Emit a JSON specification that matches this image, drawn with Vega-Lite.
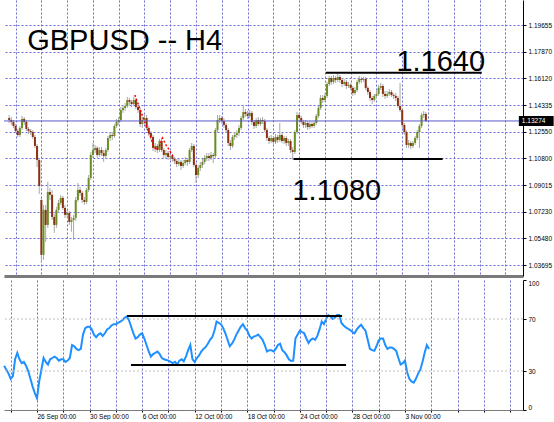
{
"$schema":"https://vega.github.io/schema/vega-lite/v6.json",
"padding":0,
"background":"white",
"config":{"view":{"stroke":null},"font":"Liberation Sans","concat":{"spacing":3},
"axis":{"labelOverlap":false,"labelFontSize":6.5,"labelColor":"#000000","tickColor":"#000000","gridColor":"#6a6ad0","gridDash":[2,2],"gridWidth":1,"title":null,"labelFlush":false,"tickCount":60}},
"datasets":{
"bars":[
{"i":-15,"o":1.1347,"h":1.1367,"l":1.1314,"c":1.1334,"r":34},
{"i":-14,"o":1.1334,"h":1.1354,"l":1.1301,"c":1.1321,"r":31},
{"i":-13,"o":1.1321,"h":1.1334,"l":1.1281,"c":1.1294,"r":28},
{"i":-12,"o":1.1294,"h":1.1307,"l":1.1247,"c":1.1261,"r":24},
{"i":-11,"o":1.1261,"h":1.1274,"l":1.1221,"c":1.1234,"r":26},
{"i":-10,"o":1.1234,"h":1.1294,"l":1.1221,"c":1.1281,"r":39},
{"i":-9,"o":1.1281,"h":1.1361,"l":1.1267,"c":1.1341,"r":44},
{"i":-8,"o":1.1341,"h":1.1354,"l":1.1301,"c":1.1321,"r":39},
{"i":-7,"o":1.1321,"h":1.1334,"l":1.1261,"c":1.1274,"r":36},
{"i":-6,"o":1.1274,"h":1.1287,"l":1.1241,"c":1.1261,"r":37},
{"i":-5,"o":1.1261,"h":1.1274,"l":1.1234,"c":1.1254,"r":34},
{"i":-4,"o":1.1254,"h":1.1267,"l":1.1208,"c":1.1221,"r":30},
{"i":-3,"o":1.1221,"h":1.1234,"l":1.1148,"c":1.1161,"r":24},
{"i":-2,"o":1.1161,"h":1.1174,"l":1.1021,"c":1.1068,"r":18},
{"i":-1,"o":1.1068,"h":1.1081,"l":1.0842,"c":1.0895,"r":13},
{"i":0,"o":1.0802,"h":1.0816,"l":1.0384,"c":1.0437,"r":9},
{"i":1,"o":1.0437,"h":1.0769,"l":1.0403,"c":1.0736,"r":22},
{"i":2,"o":1.0736,"h":1.0769,"l":1.0523,"c":1.0636,"r":31},
{"i":3,"o":1.0636,"h":1.0922,"l":1.0616,"c":1.0855,"r":40},
{"i":4,"o":1.0855,"h":1.0882,"l":1.0802,"c":1.0836,"r":37},
{"i":5,"o":1.0836,"h":1.0869,"l":1.0669,"c":1.0689,"r":35},
{"i":6,"o":1.0689,"h":1.0709,"l":1.0583,"c":1.0636,"r":39},
{"i":7,"o":1.0636,"h":1.0756,"l":1.0616,"c":1.0736,"r":40},
{"i":8,"o":1.0736,"h":1.0802,"l":1.0716,"c":1.0782,"r":41},
{"i":9,"o":1.0782,"h":1.0836,"l":1.0769,"c":1.0816,"r":40},
{"i":10,"o":1.0816,"h":1.0829,"l":1.0736,"c":1.0749,"r":38},
{"i":11,"o":1.0749,"h":1.0769,"l":1.0683,"c":1.0703,"r":39},
{"i":12,"o":1.0703,"h":1.0736,"l":1.0683,"c":1.0716,"r":39},
{"i":13,"o":1.0716,"h":1.0729,"l":1.0636,"c":1.0656,"r":37},
{"i":14,"o":1.0656,"h":1.0689,"l":1.059,"c":1.0669,"r":38},
{"i":15,"o":1.0669,"h":1.0703,"l":1.0537,"c":1.0683,"r":40},
{"i":16,"o":1.0683,"h":1.0822,"l":1.0663,"c":1.0802,"r":50},
{"i":17,"o":1.0802,"h":1.0915,"l":1.0789,"c":1.0869,"r":49},
{"i":18,"o":1.0869,"h":1.0889,"l":1.0829,"c":1.0849,"r":47},
{"i":19,"o":1.0849,"h":1.0862,"l":1.0782,"c":1.0802,"r":46},
{"i":20,"o":1.0802,"h":1.0822,"l":1.0769,"c":1.0789,"r":47},
{"i":21,"o":1.0789,"h":1.0882,"l":1.0776,"c":1.0869,"r":58},
{"i":22,"o":1.0869,"h":1.0968,"l":1.0855,"c":1.0948,"r":63},
{"i":23,"o":1.0948,"h":1.1121,"l":1.0935,"c":1.1101,"r":64},
{"i":24,"o":1.1101,"h":1.1181,"l":1.1081,"c":1.1134,"r":64},
{"i":25,"o":1.1134,"h":1.1168,"l":1.1114,"c":1.1148,"r":62},
{"i":26,"o":1.1148,"h":1.1161,"l":1.1081,"c":1.1101,"r":58},
{"i":27,"o":1.1101,"h":1.1154,"l":1.1088,"c":1.1134,"r":56},
{"i":28,"o":1.1134,"h":1.1154,"l":1.1094,"c":1.1114,"r":58},
{"i":29,"o":1.1114,"h":1.1134,"l":1.1055,"c":1.1094,"r":59},
{"i":30,"o":1.1094,"h":1.1148,"l":1.1075,"c":1.1134,"r":57},
{"i":31,"o":1.1134,"h":1.1227,"l":1.1121,"c":1.1214,"r":59},
{"i":32,"o":1.1214,"h":1.1254,"l":1.1194,"c":1.1234,"r":62},
{"i":33,"o":1.1234,"h":1.1254,"l":1.1201,"c":1.1227,"r":63},
{"i":34,"o":1.1227,"h":1.1307,"l":1.1214,"c":1.1294,"r":65},
{"i":35,"o":1.1294,"h":1.1341,"l":1.1281,"c":1.1321,"r":66},
{"i":36,"o":1.1321,"h":1.1354,"l":1.1301,"c":1.1334,"r":66},
{"i":37,"o":1.1334,"h":1.142,"l":1.1321,"c":1.14,"r":67},
{"i":38,"o":1.14,"h":1.1434,"l":1.1381,"c":1.1414,"r":68},
{"i":39,"o":1.1414,"h":1.1447,"l":1.1394,"c":1.1427,"r":69},
{"i":40,"o":1.1427,"h":1.1487,"l":1.1414,"c":1.1467,"r":71},
{"i":41,"o":1.1467,"h":1.148,"l":1.1434,"c":1.1454,"r":72},
{"i":42,"o":1.1454,"h":1.1467,"l":1.142,"c":1.144,"r":69},
{"i":43,"o":1.144,"h":1.1487,"l":1.1427,"c":1.1467,"r":64},
{"i":44,"o":1.1467,"h":1.148,"l":1.1407,"c":1.142,"r":59},
{"i":45,"o":1.142,"h":1.1434,"l":1.1381,"c":1.14,"r":55},
{"i":46,"o":1.14,"h":1.1414,"l":1.1287,"c":1.1307,"r":56},
{"i":47,"o":1.1307,"h":1.1354,"l":1.1281,"c":1.1334,"r":58},
{"i":48,"o":1.1334,"h":1.1367,"l":1.1307,"c":1.1347,"r":59},
{"i":49,"o":1.1347,"h":1.1367,"l":1.1267,"c":1.1281,"r":55},
{"i":50,"o":1.1281,"h":1.1294,"l":1.1227,"c":1.1247,"r":50},
{"i":51,"o":1.1247,"h":1.1261,"l":1.1201,"c":1.1221,"r":45},
{"i":52,"o":1.1221,"h":1.1234,"l":1.1128,"c":1.1148,"r":41},
{"i":53,"o":1.1148,"h":1.1181,"l":1.1121,"c":1.1161,"r":43},
{"i":54,"o":1.1161,"h":1.1174,"l":1.1114,"c":1.1134,"r":44},
{"i":55,"o":1.1134,"h":1.1208,"l":1.1121,"c":1.1194,"r":45},
{"i":56,"o":1.1194,"h":1.1214,"l":1.1121,"c":1.1134,"r":43},
{"i":57,"o":1.1134,"h":1.1148,"l":1.1081,"c":1.1101,"r":40},
{"i":58,"o":1.1101,"h":1.1134,"l":1.1081,"c":1.1114,"r":39},
{"i":59,"o":1.1114,"h":1.1128,"l":1.1068,"c":1.1088,"r":38.5},
{"i":60,"o":1.1088,"h":1.1108,"l":1.1068,"c":1.1094,"r":38},
{"i":61,"o":1.1094,"h":1.1108,"l":1.1055,"c":1.1075,"r":37},
{"i":62,"o":1.1075,"h":1.1088,"l":1.1041,"c":1.1061,"r":36},
{"i":63,"o":1.1061,"h":1.1075,"l":1.1021,"c":1.1041,"r":37},
{"i":64,"o":1.1041,"h":1.1075,"l":1.1028,"c":1.1055,"r":35},
{"i":65,"o":1.1055,"h":1.1068,"l":1.1001,"c":1.1028,"r":38},
{"i":66,"o":1.1028,"h":1.1068,"l":1.1015,"c":1.1048,"r":39},
{"i":67,"o":1.1048,"h":1.1088,"l":1.1035,"c":1.1068,"r":37.5},
{"i":68,"o":1.1068,"h":1.1081,"l":1.1028,"c":1.1055,"r":41},
{"i":69,"o":1.1055,"h":1.1148,"l":1.1041,"c":1.1134,"r":46},
{"i":70,"o":1.1134,"h":1.1181,"l":1.1121,"c":1.1161,"r":50},
{"i":71,"o":1.1161,"h":1.1174,"l":1.1021,"c":1.1035,"r":39},
{"i":72,"o":1.1035,"h":1.1048,"l":1.0915,"c":1.0968,"r":37},
{"i":73,"o":1.0968,"h":1.1035,"l":1.0948,"c":1.1015,"r":40},
{"i":74,"o":1.1015,"h":1.1055,"l":1.0995,"c":1.1035,"r":42},
{"i":75,"o":1.1035,"h":1.1075,"l":1.1015,"c":1.1055,"r":45},
{"i":76,"o":1.1055,"h":1.1101,"l":1.1041,"c":1.1081,"r":47},
{"i":77,"o":1.1081,"h":1.1114,"l":1.1061,"c":1.1094,"r":48.5},
{"i":78,"o":1.1094,"h":1.1114,"l":1.1061,"c":1.1081,"r":51},
{"i":79,"o":1.1081,"h":1.1121,"l":1.1068,"c":1.1101,"r":54},
{"i":80,"o":1.1101,"h":1.1114,"l":1.1048,"c":1.1094,"r":56},
{"i":81,"o":1.1094,"h":1.1281,"l":1.1081,"c":1.1267,"r":61},
{"i":82,"o":1.1267,"h":1.1367,"l":1.1254,"c":1.1334,"r":68},
{"i":83,"o":1.1334,"h":1.1367,"l":1.1314,"c":1.1347,"r":67},
{"i":84,"o":1.1347,"h":1.1361,"l":1.1307,"c":1.1327,"r":66},
{"i":85,"o":1.1327,"h":1.1347,"l":1.1281,"c":1.1301,"r":63},
{"i":86,"o":1.1301,"h":1.1314,"l":1.1247,"c":1.1267,"r":59},
{"i":87,"o":1.1267,"h":1.1281,"l":1.1161,"c":1.1181,"r":54},
{"i":88,"o":1.1181,"h":1.1201,"l":1.1134,"c":1.1161,"r":49},
{"i":89,"o":1.1161,"h":1.1234,"l":1.1148,"c":1.1221,"r":51},
{"i":90,"o":1.1221,"h":1.1254,"l":1.1201,"c":1.1234,"r":54},
{"i":91,"o":1.1234,"h":1.1267,"l":1.1214,"c":1.1247,"r":58},
{"i":92,"o":1.1247,"h":1.1301,"l":1.1227,"c":1.1281,"r":61},
{"i":93,"o":1.1281,"h":1.1361,"l":1.1267,"c":1.1347,"r":64},
{"i":94,"o":1.1347,"h":1.1434,"l":1.1334,"c":1.1387,"r":66},
{"i":95,"o":1.1387,"h":1.1407,"l":1.1354,"c":1.1374,"r":63},
{"i":96,"o":1.1374,"h":1.1394,"l":1.1341,"c":1.1361,"r":61},
{"i":97,"o":1.1361,"h":1.14,"l":1.1347,"c":1.1381,"r":57},
{"i":98,"o":1.1381,"h":1.1394,"l":1.1301,"c":1.1321,"r":55},
{"i":99,"o":1.1321,"h":1.1334,"l":1.1274,"c":1.1294,"r":56.5},
{"i":100,"o":1.1294,"h":1.1347,"l":1.1281,"c":1.1334,"r":57},
{"i":101,"o":1.1334,"h":1.1354,"l":1.1294,"c":1.1307,"r":58},
{"i":102,"o":1.1307,"h":1.1347,"l":1.1294,"c":1.1334,"r":56},
{"i":103,"o":1.1334,"h":1.1354,"l":1.1307,"c":1.1327,"r":54},
{"i":104,"o":1.1327,"h":1.1341,"l":1.1254,"c":1.1267,"r":50},
{"i":105,"o":1.1267,"h":1.1281,"l":1.1194,"c":1.1214,"r":45},
{"i":106,"o":1.1214,"h":1.1227,"l":1.1174,"c":1.1194,"r":46},
{"i":107,"o":1.1194,"h":1.1234,"l":1.1181,"c":1.1214,"r":46},
{"i":108,"o":1.1214,"h":1.1227,"l":1.1174,"c":1.1188,"r":45},
{"i":109,"o":1.1188,"h":1.1241,"l":1.1174,"c":1.1221,"r":47},
{"i":110,"o":1.1221,"h":1.1234,"l":1.1181,"c":1.1201,"r":50},
{"i":111,"o":1.1201,"h":1.1314,"l":1.1188,"c":1.1234,"r":51},
{"i":112,"o":1.1234,"h":1.1247,"l":1.1181,"c":1.1194,"r":46},
{"i":113,"o":1.1194,"h":1.1227,"l":1.1174,"c":1.1214,"r":44.5},
{"i":114,"o":1.1214,"h":1.1227,"l":1.1161,"c":1.1181,"r":42},
{"i":115,"o":1.1181,"h":1.1208,"l":1.1161,"c":1.1194,"r":39},
{"i":116,"o":1.1194,"h":1.1208,"l":1.1114,"c":1.1134,"r":37.7},
{"i":117,"o":1.1134,"h":1.1154,"l":1.1068,"c":1.1121,"r":38},
{"i":118,"o":1.1121,"h":1.1267,"l":1.1108,"c":1.1254,"r":55},
{"i":119,"o":1.1254,"h":1.1387,"l":1.1241,"c":1.1367,"r":58},
{"i":120,"o":1.1367,"h":1.1381,"l":1.1327,"c":1.1347,"r":61},
{"i":121,"o":1.1347,"h":1.1361,"l":1.1307,"c":1.1321,"r":60},
{"i":122,"o":1.1321,"h":1.1334,"l":1.1281,"c":1.1301,"r":59},
{"i":123,"o":1.1301,"h":1.1334,"l":1.1281,"c":1.1314,"r":55},
{"i":124,"o":1.1314,"h":1.1327,"l":1.1267,"c":1.1287,"r":51.5},
{"i":125,"o":1.1287,"h":1.1327,"l":1.1274,"c":1.1307,"r":54},
{"i":126,"o":1.1307,"h":1.1321,"l":1.1281,"c":1.1294,"r":55},
{"i":127,"o":1.1294,"h":1.1327,"l":1.1281,"c":1.1314,"r":54},
{"i":128,"o":1.1314,"h":1.1374,"l":1.1301,"c":1.1361,"r":57},
{"i":129,"o":1.1361,"h":1.1427,"l":1.1347,"c":1.1414,"r":62},
{"i":130,"o":1.1414,"h":1.15,"l":1.14,"c":1.148,"r":68},
{"i":131,"o":1.148,"h":1.15,"l":1.1447,"c":1.1467,"r":66},
{"i":132,"o":1.1467,"h":1.1513,"l":1.1454,"c":1.1494,"r":70},
{"i":133,"o":1.1494,"h":1.1587,"l":1.148,"c":1.1573,"r":73},
{"i":134,"o":1.1573,"h":1.1627,"l":1.156,"c":1.1613,"r":72},
{"i":135,"o":1.1613,"h":1.1627,"l":1.1567,"c":1.1587,"r":70},
{"i":136,"o":1.1587,"h":1.1633,"l":1.1573,"c":1.1613,"r":71},
{"i":137,"o":1.1613,"h":1.1627,"l":1.158,"c":1.16,"r":73},
{"i":138,"o":1.16,"h":1.164,"l":1.1587,"c":1.162,"r":73},
{"i":139,"o":1.162,"h":1.1633,"l":1.158,"c":1.16,"r":67},
{"i":140,"o":1.16,"h":1.1613,"l":1.1553,"c":1.1573,"r":65},
{"i":141,"o":1.1573,"h":1.1607,"l":1.156,"c":1.1587,"r":63.5},
{"i":142,"o":1.1587,"h":1.16,"l":1.154,"c":1.156,"r":62.5},
{"i":143,"o":1.156,"h":1.1587,"l":1.1547,"c":1.1567,"r":61.5},
{"i":144,"o":1.1567,"h":1.158,"l":1.1533,"c":1.1547,"r":60},
{"i":145,"o":1.1547,"h":1.156,"l":1.1494,"c":1.1513,"r":59},
{"i":146,"o":1.1513,"h":1.1553,"l":1.15,"c":1.1533,"r":62},
{"i":147,"o":1.1533,"h":1.16,"l":1.152,"c":1.1587,"r":64},
{"i":148,"o":1.1587,"h":1.1627,"l":1.1573,"c":1.1607,"r":65.5},
{"i":149,"o":1.1607,"h":1.162,"l":1.158,"c":1.16,"r":63},
{"i":150,"o":1.16,"h":1.162,"l":1.1587,"c":1.1607,"r":61},
{"i":151,"o":1.1607,"h":1.162,"l":1.1533,"c":1.1547,"r":54},
{"i":152,"o":1.1547,"h":1.156,"l":1.15,"c":1.152,"r":47},
{"i":153,"o":1.152,"h":1.1533,"l":1.146,"c":1.148,"r":46},
{"i":154,"o":1.148,"h":1.1494,"l":1.144,"c":1.1467,"r":45.5},
{"i":155,"o":1.1467,"h":1.1507,"l":1.1454,"c":1.1494,"r":49},
{"i":156,"o":1.1494,"h":1.1527,"l":1.148,"c":1.1507,"r":53.5},
{"i":157,"o":1.1507,"h":1.1567,"l":1.1494,"c":1.1547,"r":55},
{"i":158,"o":1.1547,"h":1.158,"l":1.1533,"c":1.156,"r":55},
{"i":159,"o":1.156,"h":1.1573,"l":1.1487,"c":1.1507,"r":50},
{"i":160,"o":1.1507,"h":1.1527,"l":1.1474,"c":1.1494,"r":47},
{"i":161,"o":1.1494,"h":1.1527,"l":1.148,"c":1.1507,"r":48},
{"i":162,"o":1.1507,"h":1.154,"l":1.1494,"c":1.152,"r":48},
{"i":163,"o":1.152,"h":1.1533,"l":1.1487,"c":1.15,"r":47},
{"i":164,"o":1.15,"h":1.1513,"l":1.1474,"c":1.1494,"r":45.5},
{"i":165,"o":1.1494,"h":1.1513,"l":1.146,"c":1.148,"r":40},
{"i":166,"o":1.148,"h":1.1494,"l":1.1414,"c":1.1427,"r":35},
{"i":167,"o":1.1427,"h":1.158,"l":1.1387,"c":1.14,"r":36},
{"i":168,"o":1.14,"h":1.1414,"l":1.1281,"c":1.1301,"r":38},
{"i":169,"o":1.1301,"h":1.1314,"l":1.1234,"c":1.1254,"r":29},
{"i":170,"o":1.1254,"h":1.1267,"l":1.1148,"c":1.1168,"r":24},
{"i":171,"o":1.1168,"h":1.1201,"l":1.1148,"c":1.1181,"r":22},
{"i":172,"o":1.1181,"h":1.1194,"l":1.1141,"c":1.1161,"r":21},
{"i":173,"o":1.1161,"h":1.1194,"l":1.1148,"c":1.1181,"r":24},
{"i":174,"o":1.1181,"h":1.1227,"l":1.1168,"c":1.1214,"r":28},
{"i":175,"o":1.1214,"h":1.1267,"l":1.1201,"c":1.1254,"r":31},
{"i":176,"o":1.1254,"h":1.1307,"l":1.1148,"c":1.1294,"r":37},
{"i":177,"o":1.1294,"h":1.1381,"l":1.1281,"c":1.1367,"r":44},
{"i":178,"o":1.1367,"h":1.1394,"l":1.1347,"c":1.1374,"r":50},
{"i":179,"o":1.1374,"h":1.1387,"l":1.1321,"c":1.1327,"r":47}
],
"lines":[{"a":132.4,"b":205,"p":1.1648},{"a":117.4,"b":186.8,"p":1.1074}],
"rsiLines":[{"a":41.1,"b":139.3,"r":72.3},{"a":42.9,"b":141.1,"r":34.6}],
"levels":[{"r":30},{"r":70}],
"redTrail":[{"i":43.5,"p":1.15},{"i":46.6,"p":1.138},{"i":49.8,"p":1.1261},{"i":52.1,"p":1.1168},{"i":53.4,"p":1.1134},{"i":54.8,"p":1.1154},{"i":56.4,"p":1.1214},{"i":58,"p":1.1168},{"i":59.6,"p":1.1134},{"i":61.2,"p":1.1094}],
"notes":[{"i":-6.6,"p":1.1799,"t":"GBPUSD -- H4"},{"i":165.3,"p":1.166,"t":"1.1640"},{"i":116.9,"p":1.0802,"t":"1.1080"}],
"last":[{"p":1.13274,"top":1.1361,"bot":1.1294,"a":222.3,"b":238.5,"t":"1.13274"}]
},
"vconcat":[
{"width":519,"height":276,
"layer":[
{"data":{"name":"bars"},"mark":{"type":"rule","color":"#a8a8a8","strokeWidth":1},
"encoding":{
"x":{"field":"i","type":"quantitative","scale":{"domain":[-15.07,221.9],"nice":false,"zero":false},
"axis":{"orient":"bottom","values":[-12,0,12,24,36,48,60,72,84,96,108,120,132,144,156,168,180,192,204,216],"tickCount":60,"labels":false,"ticks":false,"title":null,"grid":true,"domainColor":"#7a7a7a","domainWidth":3,"labelOverlap":false}},
"y":{"field":"l","type":"quantitative","scale":{"domain":[1.02964,1.21318],"nice":false,"zero":false},
"axis":{"orient":"right","values":[1.03695,1.0548,1.0723,1.09015,1.108,1.1255,1.14335,1.1612,1.1787,1.19655],"tickCount":60,"format":".5f","title":null,"grid":true,"domainColor":"#000000","tickSize":3,"labelPadding":2,"labelOverlap":false}},
"y2":{"field":"h"}}},
{"data":{"name":"bars"},"mark":{"type":"bar","size":2},
"encoding":{
"x":{"field":"i","type":"quantitative"},
"y":{"field":"o","type":"quantitative"},
"y2":{"field":"c"},
"color":{"condition":{"test":"datum.c >= datum.o","value":"#6b8e23"},"value":"#8b3010"}}},
{"data":{"name":"redTrail"},"mark":{"type":"line","stroke":"#ff0000","strokeWidth":1.5,"strokeDash":[2,2]},
"encoding":{
"x":{"field":"i","type":"quantitative"},
"y":{"field":"p","type":"quantitative"}}},
{"data":{"name":"last"},"mark":{"type":"rule","color":"#5a5acc","strokeWidth":1},
"encoding":{"y":{"field":"p","type":"quantitative"}}},
{"data":{"name":"lines"},"mark":{"type":"rule","color":"#000000","strokeWidth":2},
"encoding":{
"x":{"field":"a","type":"quantitative"},
"x2":{"field":"b"},
"y":{"field":"p","type":"quantitative"}}},
{"data":{"name":"notes"},"mark":{"type":"text","align":"left","baseline":"alphabetic","fontSize":29,"font":"Liberation Sans","color":"#000000"},
"encoding":{
"x":{"field":"i","type":"quantitative"},
"y":{"field":"p","type":"quantitative"},
"text":{"field":"t"}}},
{"data":{"name":"last"},"mark":{"type":"rect","color":"#000000","clip":false},
"encoding":{
"x":{"field":"a","type":"quantitative"},
"x2":{"field":"b"},
"y":{"field":"top","type":"quantitative"},
"y2":{"field":"bot"}}},
{"data":{"name":"last"},"mark":{"type":"text","align":"left","baseline":"middle","fontSize":6.5,"color":"#ffffff","dx":3,"clip":false},
"encoding":{
"x":{"field":"a","type":"quantitative"},
"y":{"field":"p","type":"quantitative"},
"text":{"field":"t"}}}
]},
{"width":519,"height":130,
"layer":[
{"data":{"name":"bars"},"mark":{"type":"line","color":"#1e90ff","strokeWidth":2},
"encoding":{
"x":{"field":"i","type":"quantitative","scale":{"domain":[-15.07,221.9],"nice":false,"zero":false},
"axis":{"orient":"bottom","values":[-12,0,12,24,36,48,60,72,84,96,108,120,132,144,156,168,180,192,204,216],"tickCount":60,"title":null,"grid":true,"domainColor":"#7a7a7a","domainWidth":1,"tickSize":2,"labelAlign":"left","labelBaseline":"top","labelPadding":1,"labelOverlap":false,"labelFlush":false,
"labelExpr":"(datum.value % 24 == 0 && datum.value >= 0 && datum.value <= 168) ? ['26 Sep 00:00','30 Sep 00:00','6 Oct 00:00','12 Oct 00:00','18 Oct 00:00','24 Oct 00:00','28 Oct 00:00','3 Nov 00:00'][datum.value / 24] : ''"}},
"y":{"field":"r","type":"quantitative","scale":{"domain":[0,100],"nice":false,"zero":false},
"axis":{"orient":"right","values":[0,30,70,100],"tickCount":60,"title":null,"grid":false,"labelFlush":true,"labelOverlap":false,"domainColor":"#000000","tickSize":3,"labelPadding":2}}}},
{"data":{"name":"levels"},"mark":{"type":"rule","color":"#c0c0c0","strokeWidth":1,"strokeDash":[2,2]},
"encoding":{
"y":{"field":"r","type":"quantitative"}}},
{"data":{"name":"rsiLines"},"mark":{"type":"rule","color":"#000000","strokeWidth":2},
"encoding":{
"x":{"field":"a","type":"quantitative"},
"x2":{"field":"b"},
"y":{"field":"r","type":"quantitative"}}}
]}
]
}
